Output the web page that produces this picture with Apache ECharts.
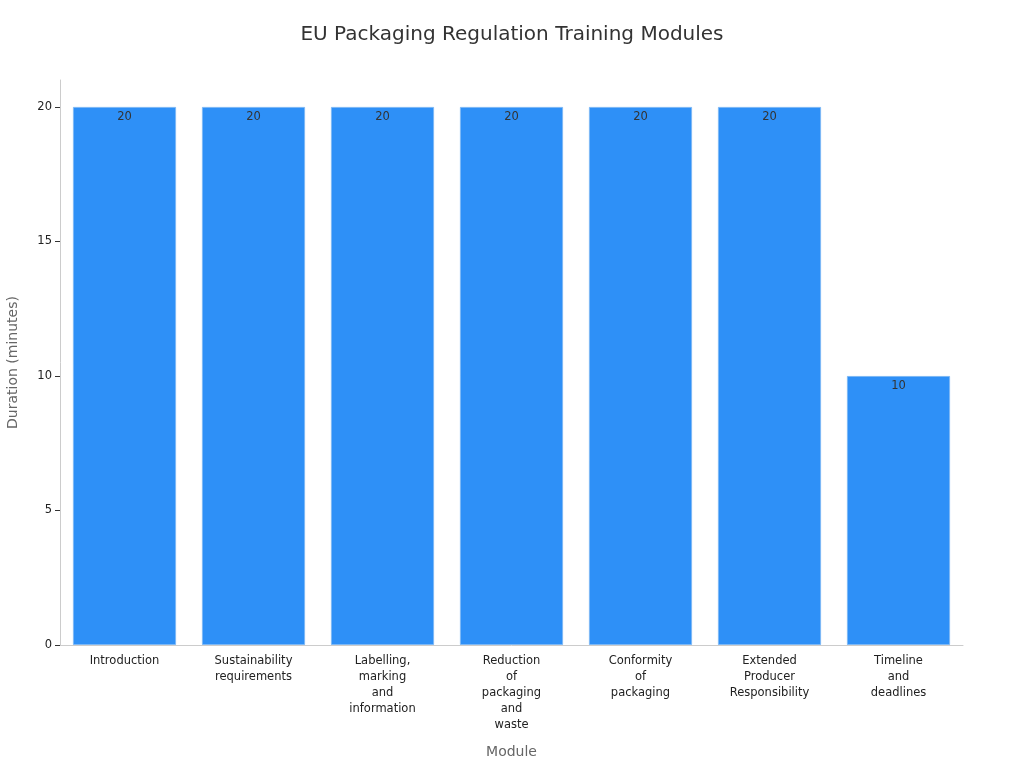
<!DOCTYPE html>
<html><head><meta charset="utf-8">
<script src="https://cdn.jsdelivr.net/npm/echarts@6/dist/echarts.min.js"></script>
<style>html,body{margin:0;padding:0;background:#fff}#c{width:1024px;height:768px}</style>
</head><body><div id="c"></div>
<script>
const categories = ["Introduction","Sustainability\nrequirements","Labelling,\nmarking\nand\ninformation","Reduction\nof\npackaging\nand\nwaste","Conformity\nof\npackaging","Extended\nProducer\nResponsibility","Timeline\nand\ndeadlines"];
const durations = [20,20,20,20,20,20,10];
const yTicks = {min:0,max:21,interval:5};
const chart = echarts.init(document.getElementById('c'));
chart.setOption({
  animation:false,
  textStyle:{fontFamily:'DejaVu Sans'},
  title:{text:'EU Packaging Regulation Training Modules',left:'center',top:20,textStyle:{fontSize:20,fontWeight:'normal',color:'#333'}},
  grid:{left:60,right:61,top:80,bottom:123,containLabel:false,outerBoundsMode:'none'},
  xAxis:{type:'category',data:categories,name:'Module',nameLocation:'middle',nameGap:100,
    nameTextStyle:{color:'#666',fontSize:14},
    axisLine:{lineStyle:{color:'#ccc'}},axisTick:{show:false},
    axisLabel:{color:'#222',fontSize:11.5,interval:0,lineHeight:16}},
  yAxis:{type:'value',min:yTicks.min,max:yTicks.max,interval:yTicks.interval,name:'Duration (minutes)',nameLocation:'middle',nameGap:40,
    nameTextStyle:{color:'#666',fontSize:14},
    axisLine:{show:true,lineStyle:{color:'#ccc'}},axisTick:{show:true,lineStyle:{color:'#333'}},
    axisLabel:{color:'#222',fontSize:11.5,showMaxLabel:false},splitLine:{show:false}},
  series:[{type:'bar',data:durations,barWidth:'80%',
    itemStyle:{color:'#2E90F7',borderColor:'#7DB8F5',borderWidth:1},
    label:{show:true,position:'insideTop',distance:4,color:'#333',fontSize:11.5}}]
});
</script></body></html>
